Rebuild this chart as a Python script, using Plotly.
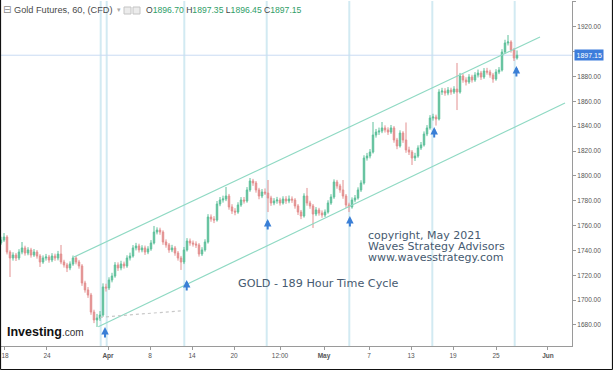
import plotly.graph_objects as go

# ---------------- data ----------------
first_open = 1746.0
closes = [
    1748.4, 1750.8, 1738.7, 1733.9, 1736.3, 1733.9, 1738.7, 1742.0, 1737.9, 1740.4,
    1736.3, 1738.7, 1735.5, 1730.7, 1733.9, 1734.7, 1732.3, 1735.5, 1733.9, 1737.1,
    1730.7, 1728.3, 1725.9, 1729.1, 1733.9, 1730.7, 1727.5, 1713.8, 1708.2, 1704.1,
    1690.4, 1684.0, 1685.6, 1688.0, 1710.6, 1709.8, 1716.2, 1719.4, 1728.3, 1725.9,
    1729.1, 1727.5, 1733.9, 1735.5, 1742.0, 1743.6, 1740.4, 1742.0, 1738.7, 1741.2,
    1746.0, 1754.8, 1756.4, 1754.8, 1746.8, 1744.4, 1740.4, 1742.0, 1737.9, 1733.9,
    1730.7, 1740.4, 1747.6, 1746.0, 1745.2, 1744.4, 1737.1, 1740.4, 1746.8, 1766.9,
    1765.3, 1764.5, 1777.4, 1780.6, 1781.4, 1783.8, 1775.0, 1771.7, 1770.9, 1776.6,
    1780.6, 1779.8, 1788.7, 1795.9, 1794.3, 1788.7, 1783.8, 1787.0, 1786.2, 1782.2,
    1778.2, 1779.8, 1780.6, 1778.2, 1781.4, 1779.8, 1781.4, 1780.6, 1775.8, 1770.9,
    1767.7, 1783.8, 1778.2, 1775.8, 1769.3, 1772.6, 1770.1, 1768.5, 1770.9, 1778.2,
    1783.0, 1795.1, 1791.9, 1788.7, 1783.8, 1776.6, 1775.0, 1780.6, 1782.2, 1788.7,
    1794.3, 1814.4, 1816.0, 1819.2, 1832.9, 1835.3, 1836.1, 1838.6, 1837.0, 1835.3,
    1838.6, 1828.9, 1824.1, 1834.5, 1828.9, 1820.9, 1819.2, 1814.4, 1816.0, 1822.5,
    1824.9, 1833.7, 1838.6, 1846.6, 1847.4, 1845.8, 1867.5, 1868.3, 1866.7, 1869.1,
    1867.5, 1869.9, 1867.5, 1880.4, 1877.2, 1875.6, 1879.6, 1877.2, 1881.2, 1882.8,
    1879.6, 1884.4, 1883.6, 1881.2, 1878.0, 1883.6, 1885.2, 1899.7, 1907.0, 1907.8,
    1901.4, 1894.9, 1897.15,
]
highs = [
    1751.0, 1754.0, 1752.3, 1740.2, 1738.5, 1738.0, 1741.0, 1746.8, 1743.8, 1742.6,
    1742.1, 1741.1, 1740.3, 1737.0, 1736.0, 1737.2, 1736.4, 1737.8, 1737.4, 1739.6,
    1744.4, 1732.5, 1730.0, 1731.2, 1735.9, 1735.5, 1732.4, 1729.0, 1715.6, 1710.5,
    1705.8, 1692.3, 1688.9, 1691.2, 1713.5, 1713.2, 1718.4, 1722.0, 1730.6, 1730.4,
    1731.7, 1731.0, 1736.1, 1738.2, 1744.3, 1746.1, 1745.4, 1744.2, 1743.9, 1743.4,
    1748.3, 1759.7, 1758.6, 1758.3, 1756.2, 1748.9, 1746.0, 1744.5, 1743.6, 1739.5,
    1735.6, 1742.8, 1749.9, 1749.6, 1748.0, 1747.3, 1745.9, 1742.6, 1749.0, 1769.2,
    1769.0, 1767.6, 1779.8, 1783.0, 1784.1, 1791.1, 1785.5, 1777.2, 1774.0, 1778.8,
    1782.9, 1783.0, 1791.0, 1798.3, 1797.6, 1795.9, 1790.4, 1789.4, 1789.9, 1796.7,
    1784.0, 1782.1, 1783.1, 1782.4, 1783.6, 1783.7, 1784.2, 1783.5, 1782.1, 1777.3,
    1772.6, 1786.0, 1790.3, 1780.0, 1777.4, 1774.9, 1774.3, 1772.2, 1773.0, 1780.4,
    1785.3, 1797.2, 1796.8, 1793.6, 1796.7, 1785.4, 1778.4, 1782.7, 1784.6, 1790.8,
    1796.5, 1816.6, 1818.5, 1821.6, 1843.4, 1837.8, 1838.9, 1843.4, 1840.7, 1839.1,
    1841.0, 1840.1, 1830.6, 1836.7, 1836.0, 1843.0, 1823.5, 1820.8, 1818.6, 1824.6,
    1827.3, 1835.8, 1840.9, 1848.9, 1850.0, 1849.3, 1869.8, 1870.9, 1870.6, 1871.5,
    1871.0, 1872.2, 1890.9, 1882.9, 1882.1, 1879.4, 1881.9, 1881.4, 1883.5, 1885.6,
    1884.5, 1886.8, 1887.0, 1885.4, 1882.9, 1885.9, 1887.6, 1902.0, 1909.6, 1913.4,
    1909.2, 1903.0, 1901.0,
]
lows = [
    1744.5, 1746.9, 1736.8, 1718.6, 1731.8, 1731.5, 1732.2, 1736.9, 1735.8, 1736.1,
    1734.2, 1734.8, 1733.4, 1726.7, 1729.2, 1731.8, 1730.1, 1730.6, 1731.7, 1732.0,
    1728.9, 1726.2, 1722.6, 1724.1, 1727.6, 1728.8, 1725.3, 1711.5, 1706.0, 1701.8,
    1688.2, 1681.5, 1678.4, 1683.3, 1686.5, 1706.9, 1708.1, 1714.3, 1718.0, 1723.5,
    1724.0, 1725.4, 1726.0, 1731.9, 1734.2, 1740.0, 1738.3, 1738.5, 1736.4, 1737.0,
    1739.7, 1744.8, 1752.9, 1752.6, 1744.5, 1742.2, 1738.1, 1738.6, 1735.7, 1731.8,
    1724.3, 1729.0, 1739.1, 1743.8, 1743.1, 1742.0, 1735.0, 1735.5, 1739.0, 1745.5,
    1763.1, 1762.0, 1763.2, 1775.6, 1778.5, 1779.7, 1772.8, 1769.4, 1768.3, 1769.5,
    1775.1, 1777.7, 1778.4, 1787.2, 1792.0, 1786.5, 1781.2, 1782.1, 1784.6, 1770.9,
    1775.9, 1776.4, 1777.6, 1776.1, 1776.9, 1777.5, 1778.0, 1778.3, 1773.6, 1768.5,
    1765.2, 1766.4, 1776.0, 1773.5, 1758.1, 1767.6, 1768.0, 1766.3, 1766.9, 1769.6,
    1776.7, 1781.5, 1789.7, 1786.4, 1781.6, 1774.3, 1770.9, 1773.6, 1778.8, 1780.9,
    1787.1, 1793.0, 1812.3, 1814.1, 1818.0, 1830.8, 1833.0, 1834.4, 1834.9, 1833.0,
    1833.8, 1826.7, 1821.5, 1822.8, 1826.6, 1818.6, 1816.8, 1808.8, 1812.0, 1814.6,
    1820.9, 1823.6, 1832.0, 1837.2, 1844.5, 1840.5, 1844.6, 1865.2, 1864.5, 1864.9,
    1865.3, 1866.0, 1853.0, 1866.2, 1875.0, 1872.8, 1874.1, 1875.1, 1875.7, 1879.2,
    1877.3, 1878.1, 1881.5, 1879.0, 1875.0, 1876.6, 1881.9, 1884.0, 1898.2, 1905.0,
    1899.2, 1892.5, 1893.6,
]
opens = [first_open] + closes[:-1]
bar_index = list(range(len(closes)))

# x-axis tick labels (positions in bar units)
tick_labels = ["18", "24", "<b>Apr</b>", "8", "14", "20", "12:00", "<b>May</b>",
               "7", "13", "19", "25", "<b>Jun</b>"]
tick_bars = [1.33, 15.33, 35.67, 49.67, 63.67, 77.67, 93.0, 107.67,
             122.67, 136.67, 150.67, 165.0, 182.33]
price_ticks = list(range(1680, 1941, 20))
hidden_price_tick = 1900   # covered by the last-price label

# 189-hour time cycle markers (bar units)
cycle_bars = [33.23, 35.23, 61.1, 88.57, 116.1, 143.77, 171.23]
arrow_bars = [34.67, 61.9, 88.9, 116.3, 144.4, 171.8]
arrow_prices = [1678.4, 1716.2, 1765.3, 1767.7, 1839.4, 1888.5]

# channel lines: (bar, price) endpoints
upper_channel = [(24.33, 1734.7), (179.67, 1911.8)]
lower_channel = [(32.43, 1678.6), (188.0, 1858.7)]
dotted_line = [(33.0, 1686.2), (60.77, 1691.5)]
last_price = 1897.15

# ---------------- figure ----------------
W, H = 613, 370
ML, MR, MT, MB = 1, 41, 1, 24
PW, PH = W - ML - MR, H - MT - MB


def px(xp):
    return (xp - ML) / PW


def py(yp):
    return (H - MB - yp) / PH


fig = go.Figure()
fig.add_trace(go.Candlestick(
    x=bar_index, open=opens, high=highs, low=lows, close=closes,
    increasing=dict(line=dict(color="#5fc09b", width=1), fillcolor="#5fc09b"),
    decreasing=dict(line=dict(color="#e39090", width=1), fillcolor="#e39090"),
    whiskerwidth=0, showlegend=False, hoverinfo="skip",
))

shapes = []
for b in cycle_bars:
    shapes.append(dict(type="line", xref="x", yref="paper", x0=b, x1=b, y0=0, y1=1,
                       line=dict(color="#d2eaf2", width=2), layer="below"))
shapes.append(dict(type="line", xref="paper", yref="y", x0=0, x1=1,
                   y0=last_price, y1=last_price,
                   line=dict(color="#c9dcf3", width=1), layer="below"))
for seg, col, dash in [(upper_channel, "#8fd9c3", "solid"),
                       (lower_channel, "#8fd9c3", "solid"),
                       (dotted_line, "#c8c8c8", "dot")]:
    (x0, y0), (x1, y1) = seg
    shapes.append(dict(type="line", xref="x", yref="y", x0=x0, y0=y0, x1=x1, y1=y1,
                       line=dict(color=col, width=1.2, dash=dash)))
# header icons
for a, b in [(124, 131), (133, 140)]:
    shapes.append(dict(type="rect", xref="paper", yref="paper",
                       x0=px(a), x1=px(b), y0=py(14), y1=py(7),
                       line=dict(color="#c4c4c4", width=1), fillcolor="#ececec"))
# outer frame (left, right, bottom)
for x0, y0, x1, y1 in [(0.5, 0, 0.5, 369.5), (612.5, 0, 612.5, 369.5),
                       (0.5, 369.5, 612.5, 369.5)]:
    shapes.append(dict(type="line", xref="paper", yref="paper",
                       x0=px(x0), x1=px(x1), y0=py(y0), y1=py(y1),
                       line=dict(color="#111111", width=1.2)))

annotations = []
for b, p in zip(arrow_bars, arrow_prices):
    annotations.append(dict(x=b, y=p, xref="x", yref="y", text="", showarrow=True,
                            ax=0, ay=12, arrowhead=2, arrowsize=0.75, arrowwidth=2,
                            arrowcolor="#3a7fd6", standoff=0))

text_col = "#465a70"
FONT = "DejaVu Sans"
for t, yy in [("copyright, May 2021", 235), ("Waves Strategy Advisors", 246),
              ("www.wavesstrategy.com", 257)]:
    annotations.append(dict(x=px(367), y=py(yy), xref="paper", yref="paper", text=t,
                            showarrow=False, xanchor="left", yanchor="middle",
                            borderpad=0,
                            font=dict(family=FONT, size=11, color=text_col)))
annotations.append(dict(x=px(236), y=py(283), xref="paper", yref="paper",
                        text="GOLD - 189 Hour Time Cycle", showarrow=False,
                        xanchor="left", yanchor="middle",
                        font=dict(family=FONT, size=11.2, color=text_col)))

# header
annotations.append(dict(x=px(1), y=py(10), xref="paper", yref="paper", text="⊟",
                        showarrow=False, xanchor="left", yanchor="middle",
                        font=dict(family="DejaVu Sans", size=10, color="#8a8a8a")))
annotations.append(dict(x=px(12), y=py(10), xref="paper", yref="paper",
                        text="Gold Futures, 60, (CFD)", showarrow=False,
                        xanchor="left", yanchor="middle",
                        font=dict(family="Liberation Sans", size=9.2, color="#4a4a4a")))
annotations.append(dict(x=px(115), y=py(10), xref="paper", yref="paper", text="▾",
                        showarrow=False, xanchor="left", yanchor="middle",
                        font=dict(family="DejaVu Sans", size=7, color="#aaaaaa")))
g = "#2f9e68"
ohlc = (f"O<span style='color:{g}'>1896.70</span> H<span style='color:{g}'>1897.35</span> "
        f"L<span style='color:{g}'>1896.45</span> C<span style='color:{g}'>1897.15</span>")
annotations.append(dict(x=px(144), y=py(10), xref="paper", yref="paper", text=ohlc,
                        showarrow=False, xanchor="left", yanchor="middle",
                        font=dict(family="Liberation Sans", size=8.6, color="#444444")))

# logo
annotations.append(dict(x=px(5), y=py(332), xref="paper", yref="paper",
                        text="<b>Investing</b><span style='font-size:10px;color:#333'>.com</span>",
                        showarrow=False, xanchor="left", yanchor="middle",
                        font=dict(family="Liberation Sans", size=12.5, color="#111111")))

# last price label
annotations.append(dict(x=px(574), y=last_price, xref="paper", yref="y",
                        text=f"{last_price:.2f}", showarrow=False,
                        xanchor="left", yanchor="middle", bgcolor="#3d7ddb",
                        borderpad=1.5,
                        font=dict(family="Liberation Sans", size=7, color="#ffffff")))

ymin = 1941.6 - 0.805 * (H - MB)
ymax = 1941.6 - 0.805 * MT

fig.update_layout(
    width=W, height=H, margin=dict(l=ML, r=MR, t=MT, b=MB, autoexpand=False),
    paper_bgcolor="white", plot_bgcolor="white",
    shapes=shapes, annotations=annotations, showlegend=False,
    xaxis=dict(range=[0, PW / 3.0], rangeslider=dict(visible=False),
               tickvals=tick_bars, ticktext=tick_labels,
               showgrid=False, zeroline=False, showline=True,
               linecolor="#9a9a9a", linewidth=1, ticks="outside", ticklen=3,
               tickcolor="#9a9a9a",
               tickfont=dict(family="Liberation Sans", size=6.5, color="#555555"),
               fixedrange=True),
    yaxis=dict(side="right", range=[ymin, ymax],
               tickvals=price_ticks,
               ticktext=["" if v == hidden_price_tick else f"{v:.2f}" for v in price_ticks],
               showgrid=False, zeroline=False, showline=True,
               linecolor="#9a9a9a", linewidth=1, ticks="outside", ticklen=3,
               tickcolor="#9a9a9a",
               tickfont=dict(family="Liberation Sans", size=6.5, color="#555555"),
               fixedrange=True),
)

fig.write_html("out.html", config={"displayModeBar": False},
               post_script="document.body.style.margin='0px';")
